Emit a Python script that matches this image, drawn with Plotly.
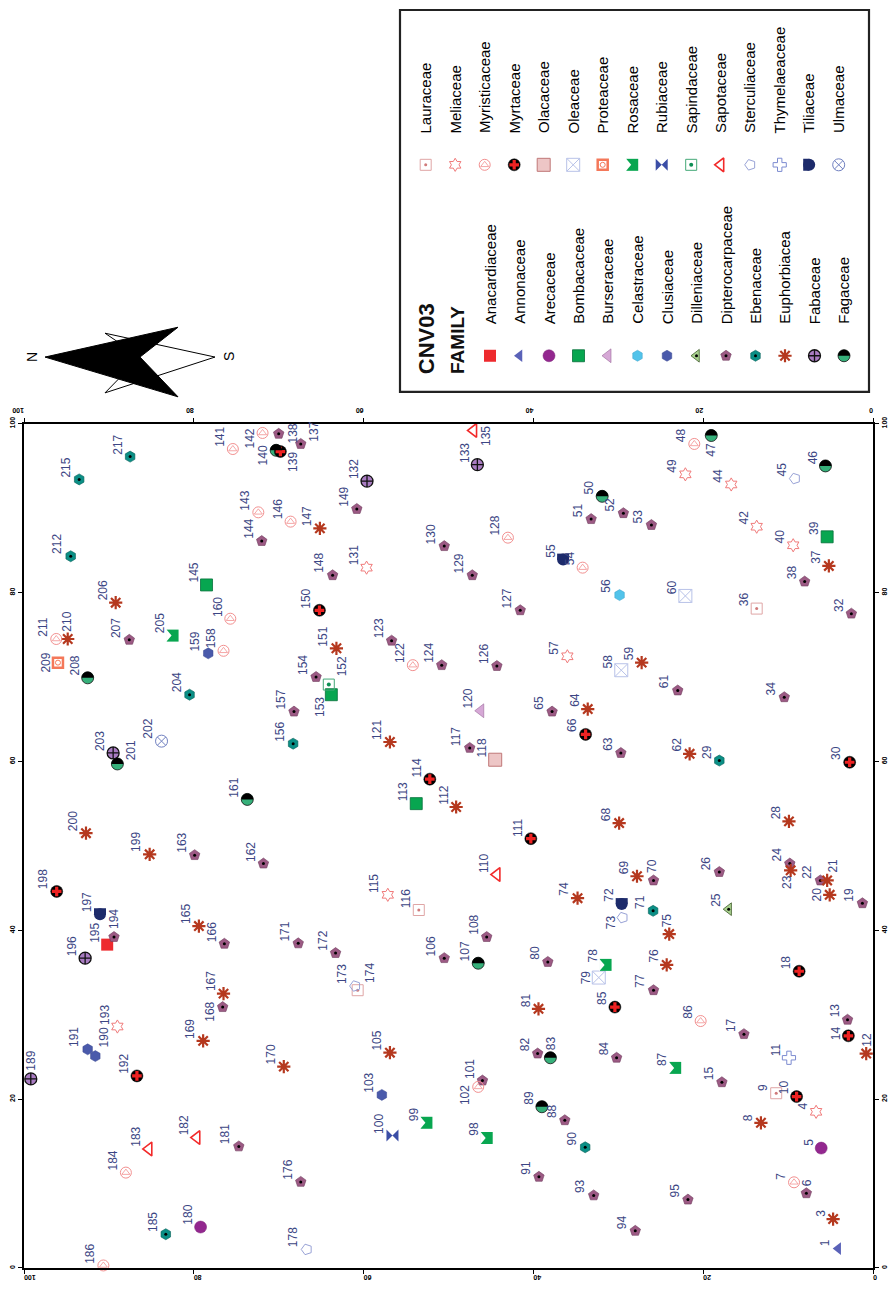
import plotly.graph_objects as go

# ---------------- data (tree map CNV03) ----------------
# point_id : tree number, family : botanical family
# pos_y : coordinate along the horizontal (reversed) axis, pos_x : coordinate along the vertical axis
point_id = [1, 3, 4, 5, 6, 7, 8, 9, 10, 11,
            12, 13, 14, 15, 17, 18, 19, 20, 21, 22,
            23, 24, 25, 26, 28, 29, 30, 32, 34, 36,
            37, 38, 39, 40, 42, 44, 45, 46, 47, 48,
            49, 50, 51, 52, 53, 54, 55, 56, 57, 58,
            59, 60, 61, 62, 63, 64, 65, 66, 68, 69,
            70, 71, 72, 73, 74, 75, 76, 77, 78, 79,
            80, 81, 82, 83, 84, 85, 86, 87, 88, 89,
            90, 91, 93, 94, 95, 98, 99, 100, 101, 102,
            103, 105, 106, 107, 108, 110, 111, 112, 113, 114,
            115, 116, 117, 118, 120, 121, 122, 123, 124, 126,
            127, 128, 129, 130, 131, 132, 133, 135, 137, 138,
            139, 140, 141, 142, 143, 144, 145, 146, 147, 148,
            149, 150, 151, 152, 153, 154, 156, 157, 158, 159,
            160, 161, 162, 163, 165, 166, 167, 168, 169, 170,
            171, 172, 173, 174, 176, 178, 180, 181, 182, 183,
            184, 185, 186, 189, 190, 191, 192, 193, 194, 195,
            196, 197, 198, 199, 200, 201, 202, 203, 204, 205,
            206, 207, 208, 209, 210, 211, 212, 215, 217]

family = ["Annonaceae", "Euphorbiaceae", "Meliaceae", "Arecaceae", "Dipterocarpaceae", "Myristicaceae", "Euphorbiaceae", "Lauraceae", "Myrtaceae", "Thymelaeaceae",
          "Euphorbiaceae", "Dipterocarpaceae", "Myrtaceae", "Dipterocarpaceae", "Dipterocarpaceae", "Myrtaceae", "Dipterocarpaceae", "Euphorbiaceae", "Euphorbiaceae", "Dipterocarpaceae",
          "Euphorbiaceae", "Dipterocarpaceae", "Dilleniaceae", "Dipterocarpaceae", "Euphorbiaceae", "Ebenaceae", "Myrtaceae", "Dipterocarpaceae", "Dipterocarpaceae", "Lauraceae",
          "Euphorbiaceae", "Dipterocarpaceae", "Bombacaceae", "Meliaceae", "Meliaceae", "Meliaceae", "Sterculiaceae", "Fagaceae", "Fagaceae", "Myristicaceae",
          "Meliaceae", "Fagaceae", "Dipterocarpaceae", "Dipterocarpaceae", "Dipterocarpaceae", "Myristicaceae", "Tiliaceae", "Celastraceae", "Meliaceae", "Oleaceae",
          "Euphorbiaceae", "Oleaceae", "Dipterocarpaceae", "Euphorbiaceae", "Dipterocarpaceae", "Euphorbiaceae", "Dipterocarpaceae", "Myrtaceae", "Euphorbiaceae", "Euphorbiaceae",
          "Dipterocarpaceae", "Ebenaceae", "Tiliaceae", "Sterculiaceae", "Euphorbiaceae", "Euphorbiaceae", "Euphorbiaceae", "Dipterocarpaceae", "Rosaceae", "Oleaceae",
          "Dipterocarpaceae", "Euphorbiaceae", "Dipterocarpaceae", "Fagaceae", "Dipterocarpaceae", "Myrtaceae", "Myristicaceae", "Rosaceae", "Dipterocarpaceae", "Fagaceae",
          "Ebenaceae", "Dipterocarpaceae", "Dipterocarpaceae", "Dipterocarpaceae", "Dipterocarpaceae", "Rosaceae", "Rosaceae", "Rubiaceae", "Dipterocarpaceae", "Myristicaceae",
          "Clusiaceae", "Euphorbiaceae", "Dipterocarpaceae", "Fagaceae", "Dipterocarpaceae", "Sapotaceae", "Myrtaceae", "Euphorbiaceae", "Bombacaceae", "Myrtaceae",
          "Meliaceae", "Lauraceae", "Dipterocarpaceae", "Olacaceae", "Burseraceae", "Euphorbiaceae", "Myristicaceae", "Dipterocarpaceae", "Dipterocarpaceae", "Dipterocarpaceae",
          "Dipterocarpaceae", "Myristicaceae", "Dipterocarpaceae", "Dipterocarpaceae", "Meliaceae", "Fabaceae", "Fabaceae", "Sapotaceae", "Dipterocarpaceae", "Dipterocarpaceae",
          "Myrtaceae", "Fagaceae", "Myristicaceae", "Myristicaceae", "Myristicaceae", "Dipterocarpaceae", "Bombacaceae", "Myristicaceae", "Euphorbiaceae", "Dipterocarpaceae",
          "Dipterocarpaceae", "Myrtaceae", "Euphorbiaceae", "Sapindaceae", "Bombacaceae", "Dipterocarpaceae", "Ebenaceae", "Dipterocarpaceae", "Myristicaceae", "Clusiaceae",
          "Myristicaceae", "Fagaceae", "Dipterocarpaceae", "Dipterocarpaceae", "Euphorbiaceae", "Dipterocarpaceae", "Euphorbiaceae", "Dipterocarpaceae", "Euphorbiaceae", "Euphorbiaceae",
          "Dipterocarpaceae", "Dipterocarpaceae", "Sterculiaceae", "Lauraceae", "Dipterocarpaceae", "Sterculiaceae", "Arecaceae", "Dipterocarpaceae", "Sapotaceae", "Sapotaceae",
          "Myristicaceae", "Ebenaceae", "Myristicaceae", "Fabaceae", "Clusiaceae", "Clusiaceae", "Myrtaceae", "Meliaceae", "Dipterocarpaceae", "Anacardiaceae",
          "Fabaceae", "Tiliaceae", "Myrtaceae", "Euphorbiaceae", "Euphorbiaceae", "Fagaceae", "Ulmaceae", "Fabaceae", "Ebenaceae", "Rosaceae",
          "Euphorbiaceae", "Dipterocarpaceae", "Fagaceae", "Proteaceae", "Euphorbiaceae", "Myristicaceae", "Ebenaceae", "Ebenaceae", "Ebenaceae"]

pos_y = [4.1, 4.7, 6.7, 6.1, 7.85, 9.3, 13.2, 11.4, 9.0, 9.9,
         0.8, 3.0, 2.9, 17.8, 15.2, 8.7, 1.25, 5.1, 5.4, 6.2,
         9.7, 9.8, 17.0, 18.1, 9.9, 18.1, 2.75, 2.55, 10.45, 13.7,
         5.2, 8.05, 5.4, 9.4, 13.7, 16.7, 9.2, 5.6, 19.05, 21.05,
         22.1, 31.9, 33.2, 29.4, 26.1, 34.2, 36.5, 29.85, 36.0, 29.65,
         27.25, 22.1, 23.0, 21.6, 29.7, 33.6, 37.8, 33.85, 29.9, 27.8,
         25.85, 25.9, 29.6, 29.5, 34.8, 24.0, 24.3, 25.85, 31.5, 32.3,
         38.3, 39.4, 39.5, 38.0, 30.2, 30.4, 20.3, 23.3, 36.3, 39.0,
         33.9, 39.35, 32.9, 28.0, 21.8, 45.5, 52.6, 56.6, 46.0, 46.5,
         57.85, 56.9, 50.5, 46.5, 45.5, 44.3, 40.3, 49.1, 53.8, 52.2,
         57.15, 53.5, 47.5, 44.5, 46.2, 56.9, 54.2, 56.7, 50.8, 44.3,
         41.55, 43.0, 47.2, 50.5, 59.65, 59.6, 46.6, 47.05, 67.4, 70.0,
         69.8, 70.3, 75.4, 71.9, 72.4, 72.0, 78.5, 68.6, 65.15, 63.65,
         60.8, 65.2, 63.2, 64.1, 63.8, 65.6, 68.3, 68.2, 76.5, 78.3,
         75.7, 73.7, 71.8, 79.9, 79.4, 76.4, 76.5, 76.6, 78.9, 69.4,
         67.7, 63.3, 61.0, 60.7, 67.4, 66.7, 79.2, 74.7, 79.65, 85.3,
         88.0, 83.3, 90.65, 99.2, 91.6, 92.5, 86.7, 89.0, 89.4, 90.2,
         92.8, 91.05, 96.15, 85.2, 92.7, 89.0, 83.8, 89.5, 80.5, 82.5,
         89.2, 87.6, 92.5, 96.0, 94.85, 96.2, 94.5, 93.5, 87.5]

pos_x = [2.3, 5.8, 18.5, 14.2, 8.85, 10.15, 17.2, 20.7, 20.3, 24.9,
         25.4, 29.4, 27.5, 22.0, 27.7, 35.15, 43.2, 44.2, 45.9, 45.9,
         47.1, 47.9, 42.5, 46.9, 52.9, 60.1, 59.9, 77.5, 67.6, 78.1,
         83.15, 81.3, 86.6, 85.6, 87.8, 92.8, 93.5, 95.0, 98.6, 97.6,
         94.0, 91.4, 88.7, 89.4, 88.0, 82.95, 83.9, 79.7, 72.45, 70.8,
         71.7, 79.6, 68.4, 60.9, 61.0, 66.2, 65.9, 63.2, 52.7, 46.4,
         45.9, 42.3, 43.1, 41.5, 43.8, 39.55, 35.9, 32.9, 35.9, 34.4,
         36.25, 30.7, 25.4, 24.9, 24.9, 30.9, 29.25, 23.7, 17.5, 19.1,
         14.3, 10.8, 8.6, 4.4, 8.1, 15.4, 17.2, 15.7, 22.2, 21.45,
         20.5, 25.5, 36.7, 36.1, 39.2, 46.6, 50.85, 54.6, 55.0, 57.9,
         44.2, 42.4, 61.6, 60.2, 66.0, 62.3, 71.4, 74.3, 71.4, 71.3,
         77.9, 86.5, 82.05, 85.5, 82.95, 93.2, 95.15, 99.2, 97.6, 98.8,
         96.7, 96.85, 97.0, 98.9, 89.5, 86.1, 80.9, 88.4, 87.6, 82.05,
         89.9, 77.9, 73.4, 69.1, 67.9, 70.0, 62.1, 65.9, 73.1, 72.8,
         76.9, 55.5, 47.9, 48.9, 40.5, 38.4, 32.5, 30.9, 26.9, 23.85,
         38.45, 37.3, 33.4, 32.9, 10.2, 2.2, 4.85, 14.4, 15.45, 14.1,
         11.3, 4.0, 0.3, 22.4, 25.1, 25.9, 22.75, 28.6, 39.2, 38.3,
         36.7, 41.9, 44.6, 49.0, 51.5, 59.7, 62.4, 61.0, 67.9, 74.9,
         78.8, 74.4, 69.9, 71.7, 74.5, 74.5, 84.3, 93.4, 96.1]

axis_ticks = [0, 20, 40, 60, 80, 100]

legend_row1 = ["Lauraceae", "Meliaceae", "Myristicaceae", "Myrtaceae", "Olacaceae",
               "Oleaceae", "Proteaceae", "Rosaceae", "Rubiaceae", "Sapindaceae",
               "Sapotaceae", "Sterculiaceae", "Thymelaeaceae", "Tiliaceae", "Ulmaceae"]
legend_row2 = ["Anacardiaceae", "Annonaceae", "Arecaceae", "Bombacaceae", "Burseraceae",
               "Celastraceae", "Clusiaceae", "Dilleniaceae", "Dipterocarpaceae", "Ebenaceae",
               "Euphorbiaceae", "Fabaceae", "Fagaceae"]
legend_row2_text = ["Anacardiaceae", "Annonaceae", "Arecaceae", "Bombacaceae", "Burseraceae",
                    "Celastraceae", "Clusiaceae", "Dilleniaceae", "Dipterocarpaceae", "Ebenaceae",
                    "Euphorbiacea", "Fabaceae", "Fagaceae"]
legend_title = "CNV03"
legend_subtitle = "FAMILY"

# ---------------- styles ----------------
LAYERS = {
    "Anacardiaceae": [dict(symbol="square", size=12, color="#ee2a2e", lc="#ee2a2e", lw=0)],
    "Annonaceae": [dict(symbol="triangle-left", size=11, color="#5a62b8", lc="#5a62b8", lw=0)],
    "Arecaceae": [dict(symbol="circle", size=12, color="#93278f", lc="#7a1f77", lw=0.5)],
    "Bombacaceae": [dict(symbol="square", size=12, color="#07a650", lc="#05703a", lw=0.8)],
    "Burseraceae": [dict(symbol="triangle-left", size=12, color="#d6a8d6", lc="#9a6a9a", lw=0.6)],
    "Celastraceae": [dict(symbol="hexagon", size=11, color="#52c3ea", lc="#3aa0c8", lw=0.5)],
    "Clusiaceae": [dict(symbol="hexagon", size=11, color="#4a5aab", lc="#3a4890", lw=0.5)],
    "Dilleniaceae": [dict(symbol="triangle-left", size=11, color="#a9d18e", lc="#3d5a2a", lw=0.8),
                     dict(symbol="circle", size=3, color="#000000", lc="#000000", lw=0)],
    "Dipterocarpaceae": [dict(symbol="pentagon", size=11, color="#9c5a84", lc="#6e3a5c", lw=0.6),
                         dict(symbol="circle", size=3, color="#000000", lc="#000000", lw=0)],
    "Ebenaceae": [dict(symbol="hexagon", size=11, color="#0b8f86", lc="#075f58", lw=0.6),
                  dict(symbol="circle", size=3, color="#000000", lc="#000000", lw=0)],
    "Euphorbiaceae": [dict(symbol="asterisk-open", size=11, color="#b5381e", lc="#b5381e", lw=2.2)],
    "Fabaceae": [dict(symbol="circle-cross", size=12, color="#a97cc2", lc="#111111", lw=1.3)],
    "Fagaceae": [dict(symbol="circle", size=12, color="#36b07a", lc="#111111", lw=0.8)],
    "Lauraceae": [dict(symbol="square-open", size=11, color="#dfa5a5", lc="#dfa5a5", lw=1),
                  dict(symbol="circle", size=3, color="#d07a7a", lc="#d07a7a", lw=0)],
    "Meliaceae": [dict(symbol="hexagram-open", size=10, color="#f07a7a", lc="#f07a7a", lw=1)],
    "Myristicaceae": [dict(symbol="circle-open", size=11, color="#f29090", lc="#f29090", lw=1),
                      dict(symbol="triangle-up-open", size=7, color="#f29090", lc="#f29090", lw=0.8)],
    "Myrtaceae": [dict(symbol="circle", size=12, color="#000000", lc="#000000", lw=0.5),
                  dict(symbol="cross", size=8, color="#ee2222", lc="#ee2222", lw=0)],
    "Olacaceae": [dict(symbol="square", size=13, color="#edc6c6", lc="#c07878", lw=1)],
    "Oleaceae": [dict(symbol="square-x-open", size=13, color="#b8c2e8", lc="#b8c2e8", lw=1)],
    "Proteaceae": [dict(symbol="square-open", size=10, color="#f4785a", lc="#f4785a", lw=2.5),
                   dict(symbol="circle-open", size=5, color="#f4785a", lc="#f4785a", lw=1)],
    "Rosaceae": [dict(symbol="square", size=12, color="#08a650", lc="#08a650", lw=0)],
    "Rubiaceae": [dict(symbol="bowtie", size=12, color="#3b4ea6", lc="#3b4ea6", lw=0)],
    "Sapindaceae": [dict(symbol="square-open", size=11, color="#44a877", lc="#44a877", lw=1),
                    dict(symbol="circle", size=4, color="#0e8f55", lc="#0e8f55", lw=0)],
    "Sapotaceae": [dict(symbol="triangle-left-open", size=12, color="#f22a2a", lc="#f22a2a", lw=1.6)],
    "Sterculiaceae": [dict(symbol="pentagon-open", size=11, color="#98a2d6", lc="#98a2d6", lw=1, angle=-90)],
    "Thymelaeaceae": [dict(symbol="cross-open", size=11, color="#7c8bd0", lc="#7c8bd0", lw=1)],
    "Tiliaceae": [dict(symbol="circle", size=12, color="#1d2b6b", lc="#1d2b6b", lw=0)],
    "Ulmaceae": [dict(symbol="circle-x-open", size=12, color="#7080c0", lc="#7080c0", lw=1)],
}

# extra glyph parts (pixel paths relative to the point, y up)
GLYPH_PATH = {
    "Fagaceae": ("M -6,0 C -6,3.31 -3.31,6 0,6 C 3.31,6 6,3.31 6,0 Z", "#000000"),
    "Tiliaceae": ("M -6,0 L -6,6 L 6,6 L 6,0 Z", "#1d2b6b"),
    "Rosaceae": ("M -6.5,6.5 L -1,0 L -6.5,-6.5 Z", "#ffffff"),
}
GLYPH_PATH_LEGEND = {
    "Tiliaceae": ("M 0,-6 L -6,-6 L -6,6 L 0,6 Z", "#1d2b6b"),
}

LABEL_COLOR = "#3c4684"
FONT = "Liberation Sans, Arial, sans-serif"

# label placement exceptions: (xanchor, yanchor, xshift, yshift)
LABEL_POS = {
    135: ("left", "top", 5, 5), 47: ("center", "top", -1, -6), 139: ("left", "top", 4, 1),
    140: ("right", "top", -5, 6), 138: ("left", "middle", 6, 0), 137: ("left", "bottom", 5, 1),
    142: ("right", "top", -5, 5), 153: ("right", "top", -4, -1), 152: ("left", "bottom", 5, 7),
    201: ("left", "bottom", 6, 3), 174: ("left", "bottom", 5, 6), 168: ("right", "top", -5, 6),
    190: ("left", "bottom", 1, 8), 189: ("center", "bottom", 0, 7), 194: ("center", "bottom", 0, 7),
    102: ("right", "top", -5, 3), 6: ("center", "bottom", 0, 6), 14: ("right", "middle", -5, 3),
    12: ("center", "bottom", 0, 6), 83: ("center", "bottom", 0, 7), 79: ("right", "middle", -5, 0),
    75: ("center", "bottom", -2, 6), 73: ("right", "top", -4, 3), 70: ("center", "bottom", -1, 6),
    23: ("center", "top", -3, -4), 21: ("left", "bottom", -2, 7), 20: ("right", "middle", -5, 0),
    210: ("center", "bottom", -1, 6), 209: ("right", "middle", -4, 0),
}

# ---------------- figure geometry ----------------
W, H = 893, 1290
ML, MR, MT, MB = 24, 20, 0, 22
PLOT_W = W - ML - MR          # 849
PLOT_H = H - MT - MB          # 1268
MAIN_TOP_PX = 419             # main frame top in pixels
main_top_frac = (PLOT_H - MAIN_TOP_PX) / PLOT_H

fig = go.Figure()


def add_glyphs(fam, xs, ys, xa, ya, paths):
    for layer in LAYERS[fam]:
        fig.add_trace(go.Scatter(
            x=xs, y=ys, mode="markers", xaxis=xa, yaxis=ya,
            marker=dict(symbol=layer["symbol"], size=layer["size"], color=layer["color"],
                        angle=layer.get("angle", 0),
                        line=dict(color=layer["lc"], width=layer["lw"])),
            hoverinfo="skip", showlegend=False, cliponaxis=False))
    if fam in paths:
        p, col = paths[fam]
        for x, y in zip(xs, ys):
            fig.add_shape(type="path", xref=xa, yref=ya, xsizemode="pixel", ysizemode="pixel",
                          xanchor=x, yanchor=y, path=p, fillcolor=col,
                          line=dict(width=0), layer="above")


# data points grouped by family
all_fams = legend_row2 + legend_row1
for fam in all_fams:
    xs = [pos_y[i] for i in range(len(point_id)) if family[i] == fam]
    ys = [pos_x[i] for i in range(len(point_id)) if family[i] == fam]
    if xs:
        add_glyphs(fam, xs, ys, "x", "y", GLYPH_PATH)

# point number labels
annotations = []
for pid, gy, gx in zip(point_id, pos_y, pos_x):
    xa, ya, xs_, ys_ = LABEL_POS.get(pid, ("right", "bottom", -5, 1))
    annotations.append(dict(x=gy, y=gx, xref="x", yref="y", text=str(pid), textangle=-90,
                            showarrow=False, xanchor=xa, yanchor=ya, xshift=xs_, yshift=ys_,
                            borderpad=0, font=dict(family=FONT, size=12, color=LABEL_COLOR)))

# invisible trace for the mirrored axes
fig.add_trace(go.Scatter(x=[50], y=[50], xaxis="x2", yaxis="y2", mode="markers",
                         marker=dict(opacity=0), hoverinfo="skip", showlegend=False))

# ---------------- legend (top area, pixel-like coordinates on x3/y3) ----------------
STEP = 29.5
R1_X0, R1_TEXT_Y, R1_MARK_Y = 425.7, 128, 158.7
R2_X0, R2_TEXT_Y, R2_MARK_Y = 490.0, 320, 350.7

fig.add_shape(type="rect", xref="x3", yref="y3", x0=400, x1=869, y0=3, y1=387,
              line=dict(color="#222222", width=2.2), fillcolor="rgba(0,0,0,0)")

legend_paths = dict(GLYPH_PATH)
legend_paths.update(GLYPH_PATH_LEGEND)
for i, fam in enumerate(legend_row1):
    x = R1_X0 + STEP * i
    add_glyphs(fam, [x], [R1_MARK_Y], "x3", "y3", legend_paths)
    annotations.append(dict(x=x, y=R1_TEXT_Y, xref="x3", yref="y3", text=fam, textangle=-90,
                            showarrow=False, xanchor="center", yanchor="bottom", borderpad=0,
                            font=dict(family=FONT, size=15, color="#000000")))
for i, fam in enumerate(legend_row2):
    x = R2_X0 + STEP * i
    add_glyphs(fam, [x], [R2_MARK_Y], "x3", "y3", legend_paths)
    annotations.append(dict(x=x, y=R2_TEXT_Y, xref="x3", yref="y3", text=legend_row2_text[i],
                            textangle=-90, showarrow=False, xanchor="center", yanchor="bottom",
                            borderpad=0, font=dict(family=FONT, size=15, color="#000000")))

annotations.append(dict(x=426.7, y=370, xref="x3", yref="y3", text="<b>%s</b>" % legend_title,
                        textangle=-90, showarrow=False, xanchor="center", yanchor="bottom",
                        borderpad=0, font=dict(family=FONT, size=22, color="#111111")))
annotations.append(dict(x=458.0, y=370, xref="x3", yref="y3", text="<b>%s</b>" % legend_subtitle,
                        textangle=-90, showarrow=False, xanchor="center", yanchor="bottom",
                        borderpad=0, font=dict(family=FONT, size=19, color="#111111")))

# north arrow
fig.add_shape(type="path", xref="x3", yref="y3",
              path="M 105,328 L 215,352 L 105,388 L 140,352 Z",
              fillcolor="#ffffff", line=dict(color="#000000", width=1))
fig.add_shape(type="path", xref="x3", yref="y3",
              path="M 45,352 L 178,322 L 140,352 L 178,392 Z",
              fillcolor="#000000", line=dict(color="#000000", width=1))
annotations.append(dict(x=32, y=352, xref="x3", yref="y3", text="N", textangle=-90,
                        showarrow=False, font=dict(family=FONT, size=14, color="#000000")))
annotations.append(dict(x=229, y=352, xref="x3", yref="y3", text="S", textangle=-90,
                        showarrow=False, font=dict(family=FONT, size=14, color="#000000")))

# ---------------- axes ----------------
tickfont = dict(family=FONT, size=7, color="#000000", weight="bold")
common = dict(showgrid=False, zeroline=False, showline=True, linecolor="#000000", linewidth=1.8,
              ticks="outside", ticklen=4, tickwidth=1.2, tickcolor="#000000",
              tickvals=axis_ticks, ticktext=[str(t) for t in axis_ticks], tickfont=tickfont)

fig.update_layout(
    width=W, height=H,
    margin=dict(l=ML, r=MR, t=MT, b=MB),
    paper_bgcolor="#ffffff", plot_bgcolor="#ffffff",
    showlegend=False,
    xaxis=dict(domain=[0, 1], range=[100, 0], anchor="y", side="bottom", tickangle=180, **common),
    yaxis=dict(domain=[0, main_top_frac], range=[0, 100], anchor="x", side="left", tickangle=-90, **common),
    xaxis2=dict(overlaying="x", matches="x", range=[100, 0], anchor="y", side="top", tickangle=180, **common),
    yaxis2=dict(overlaying="y", matches="y", range=[0, 100], anchor="x", side="right", tickangle=-90, **common),
    xaxis3=dict(domain=[0, 1], range=[ML, ML + PLOT_W], anchor="y3", visible=False, fixedrange=True),
    yaxis3=dict(domain=[main_top_frac, 1], range=[MAIN_TOP_PX, 0], anchor="x3", visible=False, fixedrange=True),
    annotations=annotations,
)

fig.write_html("out.html", config={"displayModeBar": False},
               post_script="document.body.style.margin='0px';")
